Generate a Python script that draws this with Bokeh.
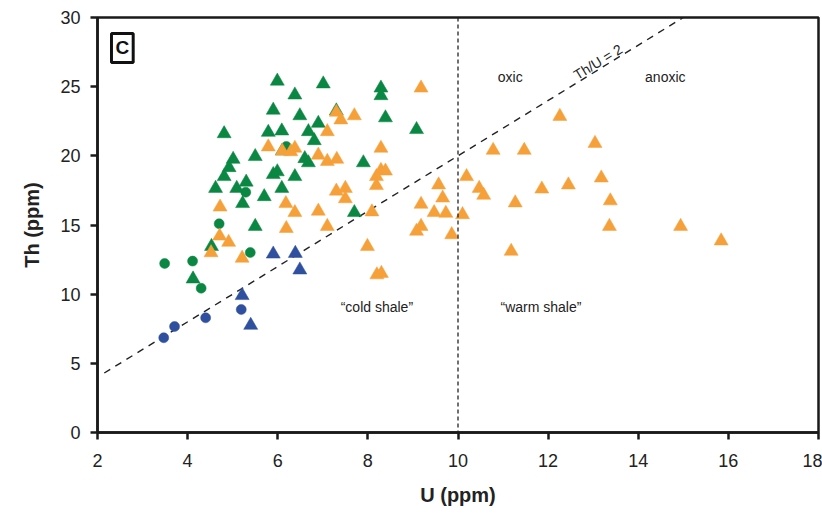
from bokeh.plotting import figure
from bokeh.models import Label, Span, Range1d, FixedTicker
from bokeh.embed import file_html
from bokeh.resources import INLINE

# ---- data (U ppm, Th ppm) ----
blue_circle_u = [3.47, 3.71, 4.40, 5.19]
blue_circle_th = [6.85, 7.66, 8.29, 8.89]

blue_tri_u = [5.21, 5.40, 5.90, 6.39, 6.49]
blue_tri_th = [9.90, 7.75, 12.9, 12.95, 11.75]

green_circle_u = [3.49, 4.11, 4.30, 5.39, 4.70, 5.29, 6.19]
green_circle_th = [12.22, 12.39, 10.43, 13.01, 15.09, 17.37, 20.68]

green_tri_u = [4.12, 4.53, 5.50, 5.99, 7.01, 6.38, 8.29, 8.29, 5.90, 6.49, 7.30, 8.39,
               9.08, 4.81, 5.79, 6.09, 6.90, 6.68, 6.81, 5.01, 5.50, 4.92, 4.81, 4.62,
               5.09, 5.30, 5.22, 5.70, 5.90, 5.99, 6.09, 6.10, 6.60, 6.68, 6.38, 7.90, 7.70]
green_tri_th = [11.1, 13.45, 14.9, 25.4, 25.2, 24.4, 24.9, 24.35, 23.3, 22.9, 23.25, 22.75,
                21.9, 21.6, 21.7, 21.8, 22.35, 21.75, 21.1, 19.75, 19.95, 19.15, 18.5, 17.65,
                17.65, 18.1, 16.55, 17.05, 18.65, 18.85, 17.65, 20.35, 19.8, 19.5, 18.5, 19.5, 15.9]

orange_tri_u = [4.52, 4.71, 4.91, 5.21, 6.19, 7.10, 5.79, 6.10, 6.38, 6.29, 4.72, 6.18,
                9.18, 7.30, 7.40, 7.70, 7.10, 6.90, 7.10, 7.31, 8.29, 8.29, 8.39, 8.19,
                8.19, 7.30, 7.50, 7.50, 6.38, 6.90, 8.09, 7.99, 9.18, 9.57, 9.66, 9.47,
                9.73, 9.08, 9.18, 9.86, 10.10, 10.78, 11.47, 12.26, 13.04, 10.19, 10.47,
                10.57, 11.27, 11.86, 12.45, 13.18, 13.38, 13.36, 11.18, 14.94, 15.84,
                8.20, 8.30]
orange_tri_th = [13.0, 14.2, 13.75, 12.6, 14.75, 14.9, 20.65, 20.35, 20.55, 20.3, 16.3, 16.55,
                 24.9, 23.15, 22.6, 22.9, 21.75, 20.05, 19.6, 19.75, 20.55, 18.95, 18.9, 18.5,
                 17.85, 17.45, 17.65, 16.9, 15.9, 16.0, 15.95, 13.45, 16.5, 17.9, 16.95, 15.9,
                 15.85, 14.55, 14.9, 14.3, 15.75, 20.4, 20.4, 22.85, 20.9, 18.5, 17.65,
                 17.15, 16.6, 17.6, 17.9, 18.4, 16.75, 14.9, 13.1, 14.9, 13.85,
                 11.4, 11.5]

x_ticks = [2, 4, 6, 8, 10, 12, 14, 16, 18]
y_ticks = [0, 5, 10, 15, 20, 25, 30]
ratio_line_u = [2.15, 15.0]

GREEN = "#0a8742"
ORANGE = "#f6a03a"
BLUE = "#2f4f9f"
FONT = "Liberation Sans"

p = figure(width=822, height=519, output_backend="svg", toolbar_location=None,
           x_range=Range1d(2, 18), y_range=Range1d(0, 30),
           min_border_left=97, min_border_right=4, min_border_top=17, min_border_bottom=87)

p.grid.visible = False
p.outline_line_color = "#1a1a1a"
p.outline_line_width = 2.5
p.background_fill_color = "white"
p.border_fill_color = "white"

for ax in (p.xaxis, p.yaxis):
    ax.axis_line_width = 2.5
    ax.axis_line_color = "#1a1a1a"
    ax.major_tick_line_width = 2.5
    ax.major_tick_line_color = "#1a1a1a"
    ax.major_tick_out = 7
    ax.major_tick_in = 0
    ax.minor_tick_line_color = None
    ax.major_label_text_font = FONT
    ax.major_label_text_font_size = "18px"
    ax.major_label_text_color = "#222222"
    ax.axis_label_text_font = FONT
    ax.axis_label_text_font_size = "20px"
    ax.axis_label_text_font_style = "bold"
    ax.axis_label_text_color = "#222222"

p.xaxis.ticker = FixedTicker(ticks=x_ticks)
p.yaxis.ticker = FixedTicker(ticks=y_ticks)
p.xaxis.axis_label = "U (ppm)"
p.yaxis.axis_label = "Th (ppm)"
p.xaxis.major_label_standoff = 14
p.yaxis.major_label_standoff = 10
p.xaxis.axis_label_standoff = 14
p.yaxis.axis_label_standoff = 14

# reference lines
p.add_layout(Span(location=10, dimension="height", line_color="#222222",
                  line_width=1.3, line_dash="4 3"))
p.line(ratio_line_u, [2 * u for u in ratio_line_u], line_color="#222222",
       line_width=1.4, line_dash="7 6")

# markers
p.scatter(green_tri_u, green_tri_th, marker="triangle", size=14,
          fill_color=GREEN, line_color=GREEN, line_width=0.5)
p.scatter(green_circle_u, green_circle_th, marker="circle", size=10,
          fill_color=GREEN, line_color=GREEN, line_width=0.5)
p.scatter(orange_tri_u, orange_tri_th, marker="triangle", size=14,
          fill_color=ORANGE, line_color=ORANGE, line_width=0.5)
p.scatter(blue_tri_u, blue_tri_th, marker="triangle", size=14,
          fill_color=BLUE, line_color=BLUE, line_width=0.5)
p.scatter(blue_circle_u, blue_circle_th, marker="circle", size=10,
          fill_color=BLUE, line_color=BLUE, line_width=0.5)

# annotations
def lab(x, y, t, **kw):
    opts = dict(text_font=FONT, text_font_size="14px", text_color="#222222",
                text_align="center", text_baseline="middle")
    opts.update(kw)
    p.add_layout(Label(x=x, y=y, text=t, **opts))

lab(11.16, 25.7, "oxic")
lab(14.6, 25.7, "anoxic")
lab(8.2, 9.1, "\u201ccold shale\u201d")
lab(11.84, 9.1, "\u201cwarm shale\u201d")
lab(13.2, 26.3, "Th/U = 2", angle=0.552, text_baseline="bottom", text_font_size="14px")

lab(2.31, 28.85, "C", text_font_size="19px", text_font_style="bold",
    text_color="#111111", text_align="left", text_baseline="top",
    border_line_color="#111111", border_line_width=3,
    background_fill_color="white", padding=4)

open("out.html", "w").write(file_html(p, INLINE))
